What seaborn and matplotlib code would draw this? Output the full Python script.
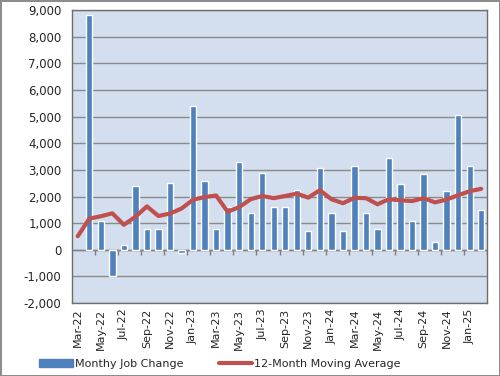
import matplotlib
matplotlib.use("Agg")
import matplotlib.pyplot as plt
import matplotlib.ticker as mticker
from matplotlib.patches import Patch
from matplotlib.lines import Line2D
import seaborn as sns
import numpy as np
import pandas as pd

# Monthly categories Mar-22 .. Feb-25
months = pd.date_range("2022-03-01", "2025-02-01", freq="MS").strftime("%b-%y").tolist()

# Monthly job change (no bar for the first month)
job_change = [np.nan, 8800, 1080, -1000, 170, 2390, 780, 780, 2500, -120,
              5400, 2580, 780, 1600, 3290, 1380, 2870, 1590, 1590, 2260,
              700, 3080, 1380, 700, 3150, 1380, 770, 3450, 2480, 1070,
              2850, 280, 2200, 5080, 3150, 1480]

# 12-month moving average
moving_avg = [510, 1170, 1260, 1370, 940, 1240, 1630, 1270, 1360, 1550,
              1880, 1980, 2040, 1430, 1600, 1900, 2020, 1940, 2020, 2110,
              1960, 2240, 1900, 1750, 1950, 1940, 1710, 1900, 1860, 1830,
              1940, 1780, 1890, 2050, 2200, 2290]

bar_color = "#4F81BD"
line_color = "#C0504D"

sns.set_style("white")
plt.rcParams["font.family"] = ["DejaVu Sans"]
plt.rcParams["font.size"] = 8

fig = plt.figure(figsize=(5, 3.76), dpi=100, facecolor="white",
                 edgecolor="#8C8C8C", linewidth=2)
ax = fig.add_axes([0.144, 0.194, 0.830, 0.779])
ax.set_facecolor("#D3DFEE")

df = pd.DataFrame({"month": months, "change": job_change,
                   "pos": np.arange(len(months)), "avg": moving_avg})

sns.barplot(data=df, x="month", y="change", color=bar_color, width=0.55,
            saturation=1, ax=ax)
for p in ax.patches:
    p.set_zorder(3)
sns.lineplot(data=df, x="pos", y="avg", color=line_color, linewidth=3,
             ax=ax, zorder=4)

ax.set_xlim(-0.5, len(months) - 0.5)
ax.set_ylim(-2000, 9000)
ax.yaxis.set_major_locator(mticker.MultipleLocator(1000))
ax.yaxis.set_major_formatter(mticker.FuncFormatter(lambda v, p: f"{int(v):,}"))
ax.grid(axis="y", color="#8A8A8A", linewidth=1, zorder=1)
ax.set_axisbelow(True)

# category labels every other month
ax.set_xticks(np.arange(0, len(months), 2))
ax.set_xticklabels(months[::2], rotation=90)
ax.tick_params(axis="x", length=0, pad=4, labelsize=8)
ax.tick_params(axis="y", length=4, direction="out", color="#808080", labelsize=8.5)
ax.set_xlabel("")
ax.set_ylabel("")

# category axis at zero with tick marks between pairs of months
ax.axhline(0, color="#808080", linewidth=1, zorder=2)
ax.vlines(np.arange(1.5, len(months), 2), -190, 0, color="#808080", linewidth=1, zorder=2)

for s in ax.spines.values():
    s.set_color("#6E6E6E")
    s.set_linewidth(1)

handles = [Patch(facecolor=bar_color, edgecolor=bar_color),
           Line2D([0], [0], color=line_color, linewidth=3)]
fig.legend(handles, ["Monthy Job Change", "12-Month Moving Average"],
           loc="center", bbox_to_anchor=(0.44, 0.032), ncol=2, frameon=False,
           fontsize=8, handlelength=3.0, handleheight=0.7, columnspacing=3.2,
           handletextpad=0.2)

fig.savefig("out.png", dpi=100, facecolor="white", edgecolor="#8C8C8C")
